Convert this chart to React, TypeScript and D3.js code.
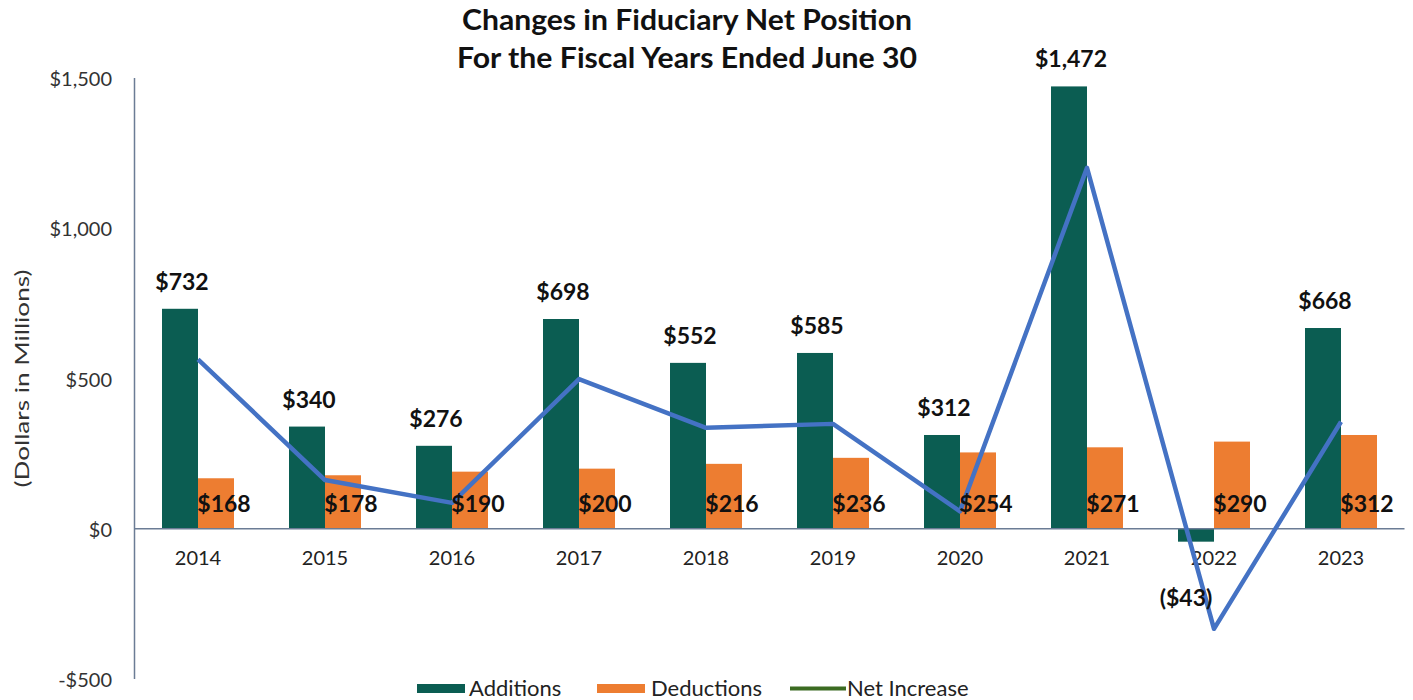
import React from "react";
import * as d3 from "d3";

const years = ["2014", "2015", "2016", "2017", "2018", "2019", "2020", "2021", "2022", "2023"];
const additions = [732, 340, 276, 698, 552, 585, 312, 1472, -43, 668];
const deductions = [168, 178, 190, 200, 216, 236, 254, 271, 290, 312];
const netIncrease = [564, 162, 86, 498, 336, 349, 58, 1201, -333, 356];
const yTicks = [-500, 0, 500, 1000, 1500];
const titleLines = ["Changes in Fiduciary Net Position", "For the Fiscal Years Ended June 30"];
const legendItems = ["Additions", "Deductions", "Net Increase"];

const W = 1413;
const H = 700;
const FONT = "Lato, 'Open Sans', sans-serif";
const C_ADD = "#0b5d52";
const C_DED = "#ed7d31";
const C_LINE = "#4472c4";
const C_LEG_LINE = "#3b6b22";

const money = (v: number) => (v < 0 ? `($${d3.format(",")(-v)})` : `$${d3.format(",")(v)}`);
const tickFmt = (v: number) => (v < 0 ? `-$${d3.format(",")(-v)}` : `$${d3.format(",")(v)}`);

export default function App() {
  const x0 = d3.scaleBand<string>().domain(years).range([134.5, 1404.5]).padding(0);
  const barW = 36;
  const x1 = d3.scaleBand<string>().domain(["add", "ded"]).range([-barW, barW]).padding(0);
  const y = d3.scaleLinear().domain([-500, 1500]).range([679, 78]);
  const cx = (yr: string) => (x0(yr) as number) + x0.bandwidth() / 2;

  const line = d3
    .line<number>()
    .x((_, i) => cx(years[i]))
    .y((d) => y(d));

  return (
    <svg width={W} height={H} style={{ display: "block", position: "absolute", left: 0, top: 0 }}>
      <rect width={W} height={H} fill="#fff" />
      {titleLines.map((t, i) => (
        <text
          key={t}
          x={687}
          y={30 + i * 38}
          textAnchor="middle"
          fontFamily={FONT}
          fontWeight="bold"
          fontSize={28}
          textLength={i === 0 ? 450 : 460}
          lengthAdjust="spacingAndGlyphs"
          fill="#111"
        >
          {t}
        </text>
      ))}

      {/* y axis */}
      <line x1={x0.range()[0]} x2={x0.range()[0]} y1={y(1500)} y2={y(-500)} stroke="#6b7c95" strokeWidth={1.5} />
      {yTicks.map((t) => (
        <text key={t} x={112} y={y(t) + 8} textAnchor="end" fontFamily={FONT} fontSize={20} fill="#333">
          {tickFmt(t)}
        </text>
      ))}
      <text
        transform={`translate(29, ${y(500)}) rotate(-90)`}
        textAnchor="middle"
        fontFamily={FONT}
        fontSize={19}
        textLength={218}
        lengthAdjust="spacingAndGlyphs"
        fill="#333"
      >
        (Dollars in Millions)
      </text>

      {/* bars */}
      {years.map((yr, i) => {
        const c = cx(yr);
        const a = additions[i];
        const dd = deductions[i];
        const ax = c + (x1("add") as number);
        const dx = c + (x1("ded") as number);
        return (
          <g key={yr}>
            <rect x={ax} width={x1.bandwidth()} y={Math.min(y(a), y(0))} height={Math.abs(y(a) - y(0))} fill={C_ADD} />
            <rect x={dx} width={x1.bandwidth()} y={y(dd)} height={y(0) - y(dd)} fill={C_DED} />
          </g>
        );
      })}

      {/* x axis */}
      <line x1={x0.range()[0]} x2={x0.range()[1]} y1={y(0)} y2={y(0)} stroke="#6b7c95" strokeWidth={1.5} />
      {years.map((yr) => (
        <text key={yr} x={cx(yr)} y={y(0) + 36} textAnchor="middle" fontFamily={FONT} fontSize={20} fill="#222">
          {yr}
        </text>
      ))}

      {/* line */}
      <path d={line(netIncrease) || ""} fill="none" stroke={C_LINE} strokeWidth={4.5} strokeLinejoin="round" />

      {/* labels */}
      {years.map((yr, i) => {
        const c = cx(yr);
        const a = additions[i];
        const dd = deductions[i];
        const ax = c + (x1("add") as number) + x1.bandwidth() / 2;
        const dx = c + (x1("ded") as number) + x1.bandwidth() / 2;
        return (
          <g key={yr} fontFamily={FONT} fontWeight="bold" fontSize={23} fill="#111">
            <text x={a < 0 ? ax - 10 : ax + 2} y={a < 0 ? y(a) + 64 : y(a) - 19} textAnchor="middle">
              {money(a)}
            </text>
            <text x={dx + 8} y={y(0) - 17} textAnchor="middle">
              {money(dd)}
            </text>
          </g>
        );
      })}

      {/* legend */}
      <g fontFamily={FONT} fontSize={22} fill="#222">
        <rect x={417} y={684} width={48} height={9} fill={C_ADD} />
        <text x={469} y={696}>{legendItems[0]}</text>
        <rect x={597} y={684} width={48} height={9} fill={C_DED} />
        <text x={651} y={696}>{legendItems[1]}</text>
        <line x1={790} x2={846} y1={688.5} y2={688.5} stroke={C_LEG_LINE} strokeWidth={4} />
        <text x={847} y={696}>{legendItems[2]}</text>
      </g>
    </svg>
  );
}
